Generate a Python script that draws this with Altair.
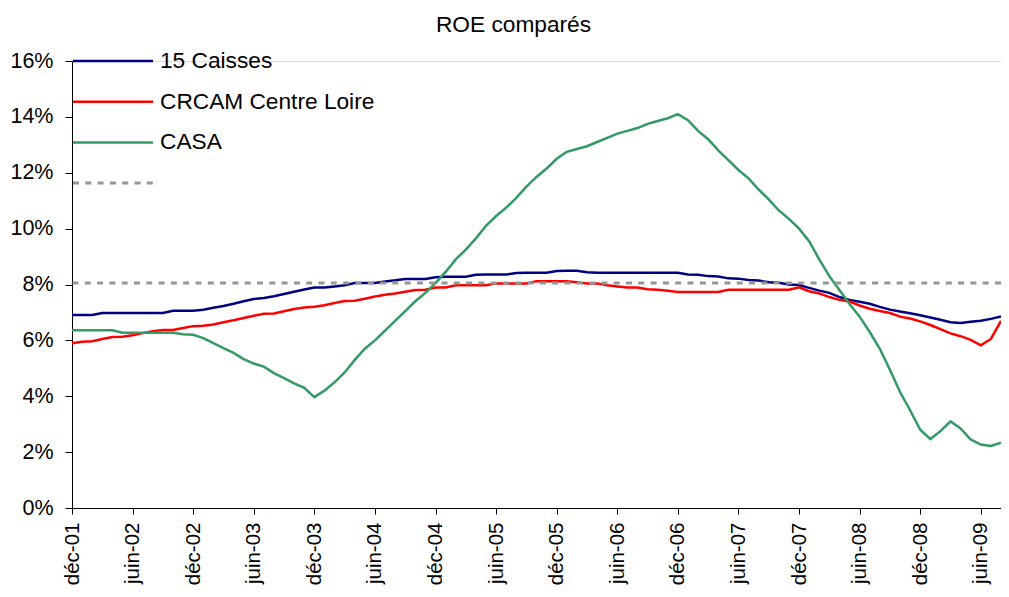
import altair as alt
import pandas as pd

FONT = "Liberation Sans"

tick_labels = ["déc-01", "juin-02", "déc-02", "juin-03", "déc-03", "juin-04", "déc-04",
               "juin-05", "déc-05", "juin-06", "déc-06", "juin-07", "déc-07", "juin-08",
               "déc-08", "juin-09"]

series_names = ["15 Caisses", "CRCAM Centre Loire", "CASA"]
series_colors = ["#000080", "#FF0000", "#339966"]

caisses15 = [6.91, 6.91, 6.91, 6.98, 6.98, 6.98, 6.98, 6.98, 6.98, 6.98,
             7.06, 7.06, 7.06, 7.10, 7.17, 7.23, 7.31, 7.40, 7.48, 7.52,
             7.58, 7.66, 7.74, 7.82, 7.89, 7.89, 7.93, 7.97, 8.05, 8.05,
             8.05, 8.11, 8.15, 8.20, 8.20, 8.20, 8.26, 8.28, 8.28, 8.28,
             8.35, 8.36, 8.36, 8.36, 8.41, 8.42, 8.42, 8.42, 8.48, 8.49,
             8.49, 8.44, 8.42, 8.42, 8.42, 8.42, 8.42, 8.42, 8.42, 8.42,
             8.42, 8.36, 8.35, 8.30, 8.29, 8.22, 8.21, 8.16, 8.14, 8.08,
             8.06, 8.00, 7.98, 7.88, 7.78, 7.70, 7.55, 7.45, 7.38, 7.31,
             7.20, 7.10, 7.03, 6.97, 6.90, 6.82, 6.74, 6.65, 6.62, 6.67,
             6.70, 6.77, 6.86]

crcam = [5.90, 5.95, 5.97, 6.05, 6.12, 6.13, 6.18, 6.26, 6.33, 6.37,
         6.37, 6.44, 6.51, 6.52, 6.57, 6.65, 6.72, 6.80, 6.88, 6.95,
         6.96, 7.04, 7.12, 7.18, 7.20, 7.26, 7.34, 7.41, 7.42, 7.49,
         7.57, 7.63, 7.68, 7.74, 7.80, 7.81, 7.89, 7.89, 7.97, 7.97,
         7.97, 7.97, 8.04, 8.04, 8.04, 8.04, 8.12, 8.12, 8.12, 8.12,
         8.08, 8.04, 8.04, 7.97, 7.93, 7.89, 7.89, 7.83, 7.81, 7.78,
         7.73, 7.73, 7.73, 7.73, 7.73, 7.81, 7.81, 7.81, 7.81, 7.81,
         7.81, 7.81, 7.90, 7.76, 7.68, 7.55, 7.45, 7.39, 7.25, 7.13,
         7.05, 6.98, 6.85, 6.78, 6.68, 6.55, 6.40, 6.25, 6.15, 6.02,
         5.82, 6.05, 6.70]

casa = [6.36, 6.36, 6.36, 6.36, 6.36, 6.27, 6.27, 6.27, 6.27, 6.27,
        6.27, 6.22, 6.20, 6.08, 5.90, 5.72, 5.55, 5.33, 5.17, 5.06,
        4.83, 4.65, 4.46, 4.30, 3.97, 4.20, 4.50, 4.85, 5.30, 5.70,
        6.00, 6.35, 6.70, 7.05, 7.40, 7.70, 8.05, 8.45, 8.90, 9.25,
        9.65, 10.10, 10.45, 10.75, 11.10, 11.50, 11.85, 12.15, 12.50, 12.75,
        12.85, 12.95, 13.10, 13.25, 13.40, 13.50, 13.60, 13.75, 13.85, 13.95,
        14.10, 13.88, 13.50, 13.20, 12.80, 12.45, 12.10, 11.80, 11.40, 11.05,
        10.65, 10.35, 10.00, 9.55, 8.90, 8.30, 7.80, 7.30, 6.85, 6.30,
        5.70, 4.95, 4.15, 3.50, 2.80, 2.47, 2.75, 3.10, 2.85, 2.45,
        2.27, 2.22, 2.34]

seuil = 8.05  # dashed grey reference line
y_ticks = [0, 2, 4, 6, 8, 10, 12, 14, 16]

n = len(caisses15)
rows = []
for name, vals in zip(series_names, [caisses15, crcam, casa]):
    for i, v in enumerate(vals):
        rows.append({"mois": i, "serie": name, "roe": v})
df = pd.DataFrame(rows)

tick_vals = [6 * k for k in range(len(tick_labels))]
label_expr = "[" + ",".join("'" + t + "'" for t in tick_labels) + "][round(datum.value/6)]"

x_enc = alt.X(
    "mois:Q",
    scale=alt.Scale(domain=[0, n - 1], nice=False, zero=False),
    axis=alt.Axis(values=tick_vals, labelExpr=label_expr, labelAngle=270,
                  labelAlign="right", labelBaseline="middle", tickSize=6,
                  labelPadding=8, grid=False, title=None, domainColor="black",
                  tickColor="black", labelFontSize=20.5, labelFont=FONT,
                  labelColor="black", labelOverlap=False),
)
y_enc = alt.Y(
    "roe:Q",
    scale=alt.Scale(domain=[0, 16], nice=False),
    axis=alt.Axis(values=y_ticks, labelExpr="datum.value + '%'", tickSize=7,
                  labelPadding=12, grid=False, title=None, domainColor="black",
                  tickColor="black", labelFontSize=21.5, labelFont=FONT,
                  labelColor="black", labelOverlap=False),
)

layers = []
for name, color in zip(series_names, series_colors):
    layers.append(
        alt.Chart(df).transform_filter(alt.datum.serie == name)
        .mark_line(strokeWidth=2.5, color=color)
        .encode(x=x_enc, y=y_enc)
    )

rule = alt.Chart(pd.DataFrame({"roe": [seuil]})).mark_rule(
    color="#969696", strokeWidth=3, strokeDash=[6, 6.3]
).encode(y=alt.Y("roe:Q"))
layers.append(rule)

# legend (top-left, inside plot)
row_gap = 40.7
for idx, (name, color) in enumerate(zip(series_names, series_colors)):
    ld = pd.DataFrame({"serie": [name]})
    layers.append(
        alt.Chart(ld).mark_rule(color=color, strokeWidth=2.5)
        .encode(x=alt.value(1), x2=alt.value(81), y=alt.value(idx * row_gap))
    )
    layers.append(
        alt.Chart(ld).mark_text(align="left", baseline="middle", fontSize=22.7,
                                font=FONT, color="black")
        .encode(x=alt.value(88), y=alt.value(idx * row_gap), text="serie:N")
    )
layers.append(
    alt.Chart(pd.DataFrame({"serie": [""]})).mark_rule(
        color="#969696", strokeWidth=3, strokeDash=[6, 6.3])
    .encode(x=alt.value(1), x2=alt.value(81), y=alt.value(3 * row_gap))
)

chart = alt.layer(*layers).properties(
    width=929,
    height=447,
    title=alt.TitleParams("ROE comparés", fontSize=22.7, font=FONT,
                          fontWeight="normal", color="black", anchor="middle",
                          dx=-23, dy=-9),
    autosize=alt.AutoSizeParams(type="none"),
    padding={"left": 64, "top": 53, "right": 0, "bottom": 81},
).configure_view(stroke=None).configure(background="white")

chart.save("out.html", embed_options={"renderer": "svg", "actions": False})
